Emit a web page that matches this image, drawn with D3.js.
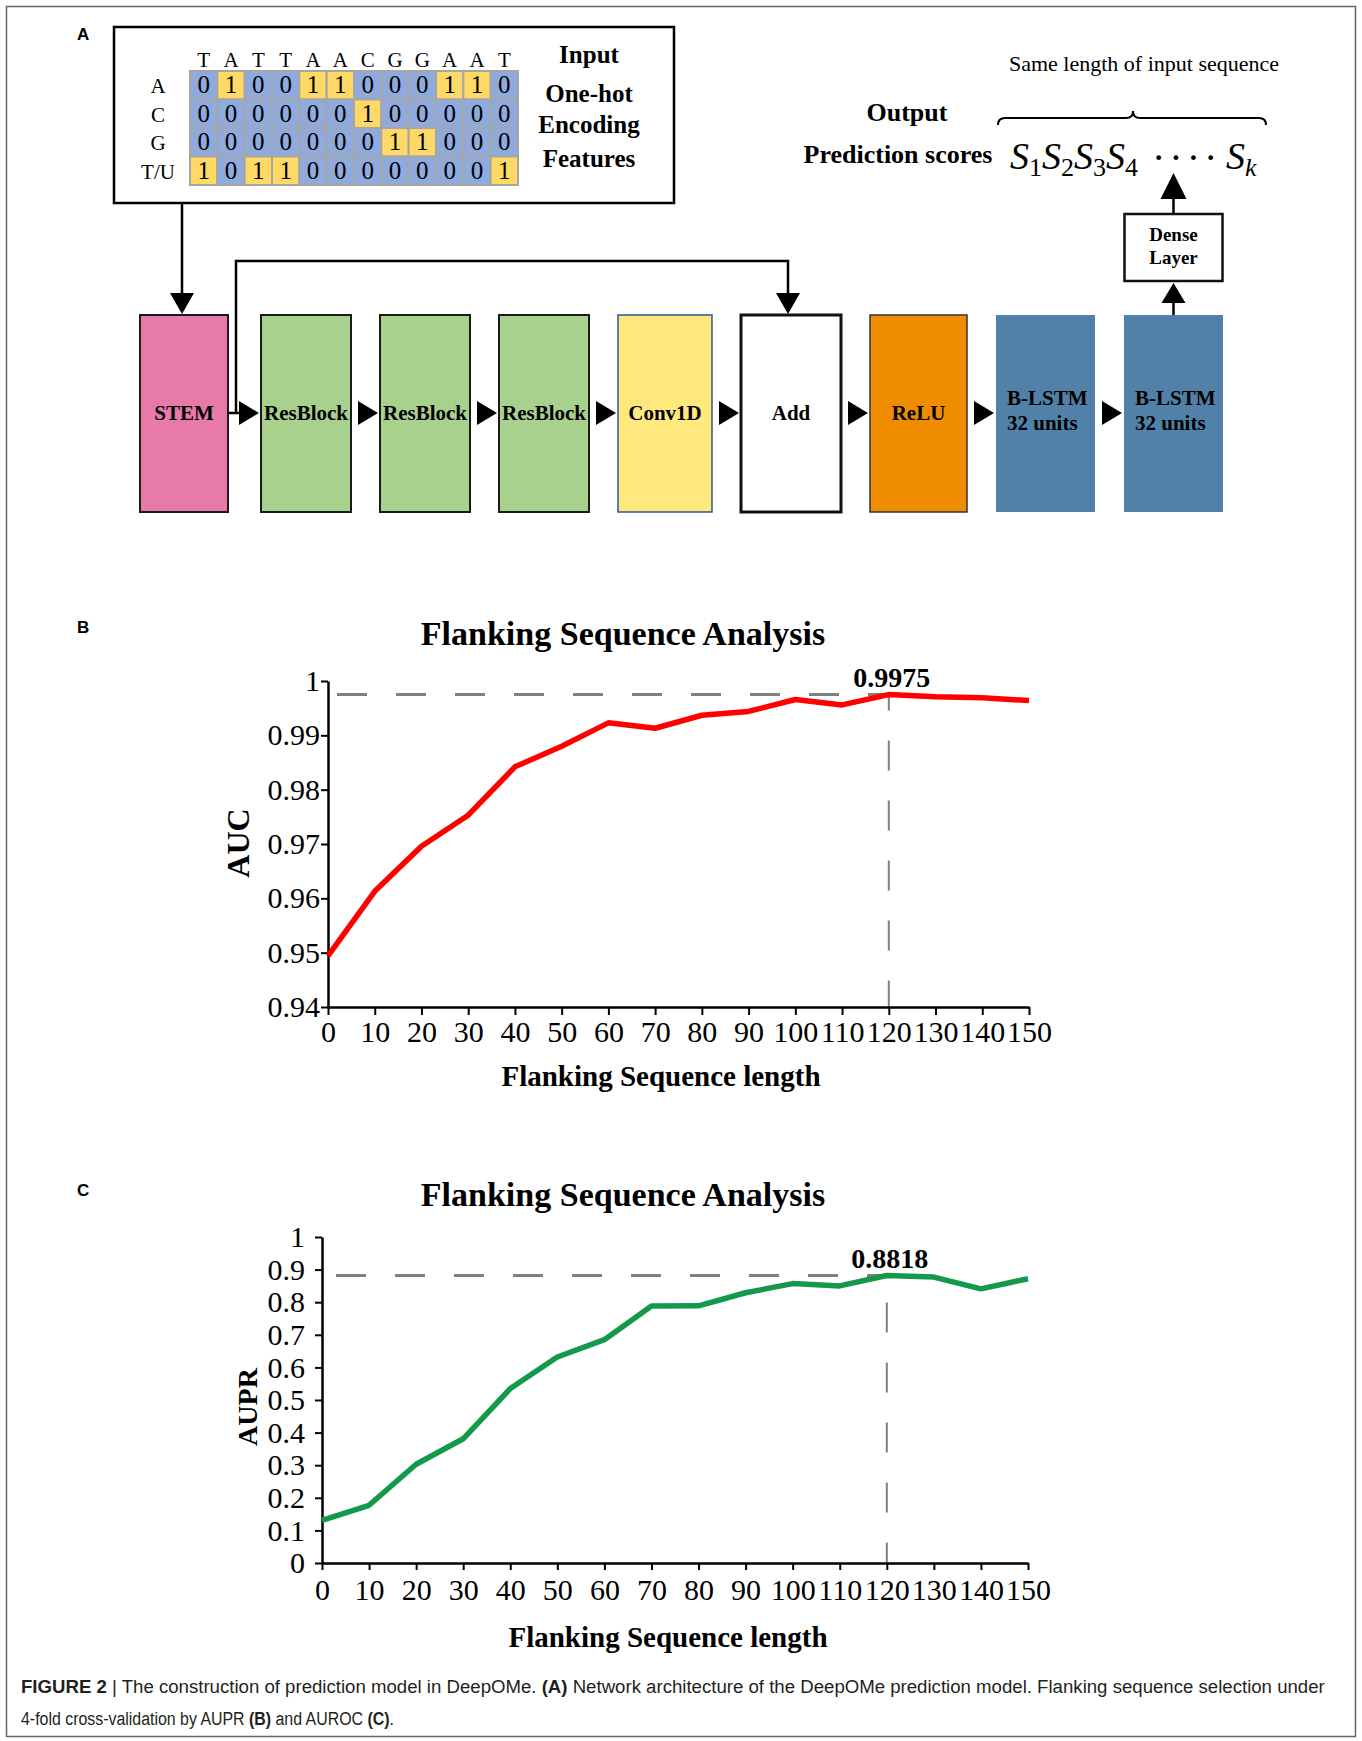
<!DOCTYPE html>
<html>
<head>
<meta charset="utf-8">
<script src="https://cdn.jsdelivr.net/npm/d3@7"></script>
<style>
  body { margin: 0; background: #fff; }
  svg { display: block; }
</style>
</head>
<body>
<svg id="fig" width="1362" height="1741"></svg>
<script>
// ---- data ----
const sequence = ["T", "A", "T", "T", "A", "A", "C", "G", "G", "A", "A", "T"];
const bases = ["A", "C", "G", "T"];
const baseLabels = ["A", "C", "G", "T/U"];
const inputLabels = ["Input", "One-hot", "Encoding", "Features"];
const blockNames = ["STEM", "ResBlock", "ResBlock", "ResBlock", "Conv1D", "Add", "ReLU", "B-LSTM", "B-LSTM"];
const blockSub = ["", "", "", "", "", "", "", "32 units", "32 units"];

const flankLengths = [0, 10, 20, 30, 40, 50, 60, 70, 80, 90, 100, 110, 120, 130, 140, 150];
const aucValues = [0.9494, 0.9613, 0.9696, 0.9753, 0.9842, 0.9880, 0.9923, 0.9913,
                   0.9937, 0.9944, 0.9966, 0.9956, 0.9975, 0.9971, 0.9969, 0.9964];
const auprValues = [0.131, 0.177, 0.303, 0.381, 0.535, 0.632, 0.685, 0.788,
                    0.789, 0.829, 0.857, 0.850, 0.8818, 0.877, 0.841, 0.872];
const aucTicks = [0.94, 0.95, 0.96, 0.97, 0.98, 0.99, 1];
const auprTicks = [0, 0.1, 0.2, 0.3, 0.4, 0.5, 0.6, 0.7, 0.8, 0.9, 1];
const bestLength = 120;
const bestAuc = 0.9975;
const bestAupr = 0.8818;

// ---- styles ----
const SERIF = "'Liberation Serif','Times New Roman',serif";
const SANS = "'Liberation Sans',Arial,sans-serif";
const blockStyle = {
  "STEM":     { fill: "#E87AA9", stroke: "#1a1a1a", sw: 2, w: 88 },
  "ResBlock": { fill: "#A9D18E", stroke: "#1a1a1a", sw: 2, w: 90 },
  "Conv1D":   { fill: "#FFE97F", stroke: "#2F5597", sw: 1.5, w: 94 },
  "Add":      { fill: "#ffffff", stroke: "#111111", sw: 3, w: 100 },
  "ReLU":     { fill: "#F08C00", stroke: "#333333", sw: 1.5, w: 97 },
  "B-LSTM":   { fill: "#5181A8", stroke: "none", sw: 0, w: 99 }
};
const blockGap = 29;

const svg = d3.select("#fig");

function label(g, x, y, s, size, o = {}) {
  return g.append("text")
    .attr("x", x).attr("y", y)
    .attr("text-anchor", o.anchor || "middle")
    .attr("font-family", o.family || SERIF)
    .attr("font-weight", o.bold ? "bold" : "normal")
    .attr("font-style", o.italic ? "italic" : "normal")
    .attr("font-size", size)
    .attr("fill", o.fill || "#000")
    .text(s);
}

// filled triangle, tip at (tx,ty)
function tri(g, tx, ty, dir, w, h) {
  let pts;
  if (dir === "right") pts = [[tx, ty], [tx - w, ty - h / 2], [tx - w, ty + h / 2]];
  if (dir === "down") pts = [[tx, ty], [tx - w / 2, ty - h], [tx + w / 2, ty - h]];
  if (dir === "up") pts = [[tx, ty], [tx - w / 2, ty + h], [tx + w / 2, ty + h]];
  g.append("path").attr("d", d3.line()(pts) + "Z").attr("fill", "#000");
}

// outer frame
svg.append("rect")
  .attr("x", 6.5).attr("y", 6.5).attr("width", 1349).attr("height", 1730)
  .attr("fill", "none").attr("stroke", "#666").attr("stroke-width", 1.5);

// panel letters
label(svg, 77, 40, "A", 17, { family: SANS, bold: true, anchor: "start" });
label(svg, 77, 633, "B", 17, { family: SANS, bold: true, anchor: "start" });
label(svg, 77, 1196, "C", 17, { family: SANS, bold: true, anchor: "start" });

// ================= Panel A =================
const gA = svg.append("g");

// input box
gA.append("rect")
  .attr("x", 114).attr("y", 27).attr("width", 560).attr("height", 176)
  .attr("fill", "#fff").attr("stroke", "#000").attr("stroke-width", 2.5);

const mx = d3.scaleBand().domain(d3.range(sequence.length)).range([190, 518]);
const my = d3.scaleBand().domain(d3.range(bases.length)).range([71, 185]);
const cells = bases.flatMap((b, r) => sequence.map((s, c) => ({ r, c, v: s === b ? 1 : 0 })));

gA.selectAll("rect.cell")
  .data(cells)
  .enter()
  .append("rect")
  .attr("class", "cell")
  .attr("x", d => mx(d.c)).attr("y", d => my(d.r))
  .attr("width", mx.bandwidth()).attr("height", my.bandwidth())
  .attr("fill", d => d.v ? "#FFD966" : "#8FAADC")
  .attr("stroke", "#A6A6A6").attr("stroke-width", 2);

gA.selectAll("text.cellv")
  .data(cells)
  .enter()
  .append("text")
  .attr("class", "cellv")
  .attr("x", d => mx(d.c) + mx.bandwidth() / 2)
  .attr("y", d => my(d.r) + my.bandwidth() / 2 + 8)
  .attr("text-anchor", "middle")
  .attr("font-family", SERIF).attr("font-size", 25)
  .text(d => d.v);

// sequence letters over columns
sequence.forEach((s, c) => label(gA, mx(c) + mx.bandwidth() / 2, 67, s, 21));
// base labels
baseLabels.forEach((b, r) => label(gA, 158, my(r) + my.bandwidth() / 2 + 8, b, 21));

// "Input / One-hot / Encoding / Features"
[63, 102, 133, 167].forEach((yy, i) => label(gA, 589, yy, inputLabels[i], 25, { bold: true }));

// processing blocks: left edges from cumulative widths
const blockX = [];
blockNames.reduce((x, name, i) => {
  blockX.push(x);
  return x + blockStyle[name].w + (i === 0 ? blockGap + 4 : blockGap);
}, 140);
const bW = i => blockStyle[blockNames[i]].w;
const blockTop = 315, blockBot = 512, midY = 413;

const blk = gA.selectAll("g.block")
  .data(blockNames)
  .enter()
  .append("g")
  .attr("class", "block");

blk.append("rect")
  .attr("x", (d, i) => blockX[i]).attr("y", blockTop)
  .attr("width", d => blockStyle[d].w).attr("height", blockBot - blockTop)
  .attr("fill", d => blockStyle[d].fill)
  .attr("stroke", d => blockStyle[d].stroke)
  .attr("stroke-width", d => blockStyle[d].sw);

blk.each(function (d, i) {
  const g = d3.select(this);
  if (blockSub[i]) {
    label(g, blockX[i] + 11, 405, d, 21, { bold: true, anchor: "start" });
    label(g, blockX[i] + 11, 430, blockSub[i], 21, { bold: true, anchor: "start" });
  } else {
    label(g, blockX[i] + bW(i) / 2, midY + 7, d, 21, { bold: true });
  }
});

// arrows between blocks
d3.range(blockNames.length - 1).forEach(i => {
  tri(gA, blockX[i + 1] - 2, midY, "right", 20, 24);
});
gA.append("line")
  .attr("x1", blockX[0] + bW(0)).attr("x2", blockX[1] - 20).attr("y1", midY).attr("y2", midY)
  .attr("stroke", "#000").attr("stroke-width", 2.5);

// skip connection STEM -> Add
const addIdx = blockNames.indexOf("Add");
const addC = blockX[addIdx] + bW(addIdx) / 2 - 3;
const skipX = blockX[0] + bW(0) + 8;
gA.append("path")
  .attr("d", `M${skipX},${midY}V261H${addC}V${blockTop - 20}`)
  .attr("fill", "none").attr("stroke", "#000").attr("stroke-width", 2.5);
tri(gA, addC, blockTop - 1, "down", 24, 21);

// input -> STEM
const stemC = blockX[0] + bW(0) / 2 - 2;
gA.append("line")
  .attr("x1", stemC).attr("x2", stemC).attr("y1", 203).attr("y2", blockTop - 20)
  .attr("stroke", "#000").attr("stroke-width", 2.5);
tri(gA, stemC, blockTop - 1, "down", 24, 21);

// B-LSTM -> Dense -> output
const last = blockNames.length - 1;
const lastC = blockX[last] + bW(last) / 2;
gA.append("line")
  .attr("x1", lastC).attr("x2", lastC).attr("y1", blockTop).attr("y2", 300)
  .attr("stroke", "#000").attr("stroke-width", 2.5);
tri(gA, lastC, 283, "up", 24, 20);
gA.append("rect")
  .attr("x", lastC - 49).attr("y", 214).attr("width", 98).attr("height", 67)
  .attr("fill", "#fff").attr("stroke", "#111").attr("stroke-width", 2.5);
label(gA, lastC, 241, "Dense", 19, { bold: true });
label(gA, lastC, 264, "Layer", 19, { bold: true });
gA.append("line")
  .attr("x1", lastC).attr("x2", lastC).attr("y1", 214).attr("y2", 195)
  .attr("stroke", "#000").attr("stroke-width", 2.5);
tri(gA, lastC, 173, "up", 26, 26);

// output text
label(gA, 907, 121, "Output", 26, { bold: true });
label(gA, 898, 163, "Prediction scores", 26, { bold: true });
label(gA, 1144, 71, "Same length of input sequence", 22);

// brace
const br = d3.path();
br.moveTo(998, 125);
br.quadraticCurveTo(998, 118, 1005, 118);
br.lineTo(1126, 118);
br.quadraticCurveTo(1133, 118, 1133, 111);
br.quadraticCurveTo(1133, 118, 1140, 118);
br.lineTo(1259, 118);
br.quadraticCurveTo(1266, 118, 1266, 125);
gA.append("path").attr("d", br.toString())
  .attr("fill", "none").attr("stroke", "#000").attr("stroke-width", 2);

// S1 S2 S3 S4 .... Sk
const math = gA.append("text")
  .attr("x", 1010).attr("y", 169)
  .attr("font-family", SERIF).attr("font-size", 38);
["1", "2", "3", "4"].forEach((k, i) => {
  math.append("tspan").attr("font-style", "italic").attr("dy", i === 0 ? 0 : -7).text("S");
  math.append("tspan").attr("font-size", 26).attr("dy", 7).text(k);
});
label(gA, 1152, 171, "····", 40, { anchor: "start" }).attr("letter-spacing", 4);
const sk = gA.append("text").attr("x", 1226).attr("y", 169)
  .attr("font-family", SERIF).attr("font-size", 38);
sk.append("tspan").attr("font-style", "italic").text("S");
sk.append("tspan").attr("font-style", "italic").attr("font-size", 26).attr("dy", 7).text("k");

// ================= Panels B & C =================
function drawChart(cfg) {
  const g = svg.append("g");
  const x = d3.scaleLinear().domain([0, 150]).range([cfg.x0, cfg.x1]);
  const y = d3.scaleLinear().domain(cfg.yDomain).range([cfg.y0, cfg.y1]);

  label(g, 623, cfg.titleY, "Flanking Sequence Analysis", 34, { bold: true });

  // reference dashed lines
  g.append("line")
    .attr("x1", x(0)).attr("x2", x(bestLength))
    .attr("y1", y(cfg.best)).attr("y2", y(cfg.best))
    .attr("stroke", "#808080").attr("stroke-width", 3)
    .attr("stroke-dasharray", "30,29").attr("stroke-dashoffset", cfg.hOff);
  g.append("line")
    .attr("x1", x(bestLength)).attr("x2", x(bestLength))
    .attr("y1", y(cfg.best)).attr("y2", cfg.y0)
    .attr("stroke", "#808080").attr("stroke-width", 2)
    .attr("stroke-dasharray", "30,30").attr("stroke-dashoffset", cfg.vOff);

  // axes
  const xa = g.append("g")
    .attr("transform", `translate(0,${cfg.y0})`)
    .call(d3.axisBottom(x).tickValues(flankLengths).tickSize(cfg.xTick).tickPadding(cfg.xPad).tickSizeOuter(0));
  const ya = g.append("g")
    .attr("transform", `translate(${cfg.x0},0)`)
    .call(d3.axisLeft(y).tickValues(cfg.ticks).tickFormat(cfg.fmt).tickSize(7).tickPadding(cfg.yPad).tickSizeOuter(0));
  [xa, ya].forEach(a => {
    a.attr("font-family", SERIF).attr("font-size", 30);
    a.select(".domain").attr("stroke", "#000").attr("stroke-width", 2.5);
    a.selectAll(".tick line").attr("stroke", "#000").attr("stroke-width", 2);
    a.selectAll(".tick text").attr("fill", "#000");
  });

  // data line
  g.append("path")
    .datum(cfg.values)
    .attr("d", d3.line().x((d, i) => x(flankLengths[i])).y(d => y(d)))
    .attr("fill", "none").attr("stroke", cfg.color).attr("stroke-width", 5.5)
    .attr("stroke-linejoin", "round");

  label(g, x(bestLength) + 3, y(cfg.best) - 8, cfg.best.toString(), 28, { bold: true });

  label(g, cfg.xLabelX, cfg.xLabelY, "Flanking Sequence length", 29, { bold: true });
  label(g, 0, 0, cfg.yLabel, cfg.yLabelSize, { bold: true })
    .attr("dominant-baseline", "central")
    .attr("transform", `translate(${cfg.yLabelX},${cfg.yLabelY}) rotate(-90)`);
}

drawChart({
  values: aucValues, best: bestAuc, color: "#FF0000",
  x0: 328, x1: 1029, y0: 1007, y1: 681, yDomain: [0.94, 1],
  ticks: aucTicks, fmt: d3.format(".2~f"), yPad: 1,
  xTick: 8, xPad: 6, titleY: 645, hOff: 50, vOff: 14,
  xLabelX: 661, xLabelY: 1086,
  yLabel: "AUC", yLabelSize: 32, yLabelX: 238, yLabelY: 843
});

drawChart({
  values: auprValues, best: bestAupr, color: "#12994A",
  x0: 322, x1: 1028, y0: 1563, y1: 1237, yDomain: [0, 1],
  ticks: auprTicks, fmt: d3.format(".1~f"), yPad: 10,
  xTick: 7, xPad: 9, titleY: 1206, hOff: 45, vOff: 33,
  xLabelX: 668, xLabelY: 1647,
  yLabel: "AUPR", yLabelSize: 28, yLabelX: 247, yLabelY: 1407
});

// ================= caption =================
function captionLine(y, parts, targetW) {
  const t = svg.append("text")
    .attr("x", 0).attr("y", 0)
    .attr("font-family", SANS).attr("font-size", 19).attr("fill", "#231F20");
  parts.forEach(p => t.append("tspan").attr("font-weight", p[1] ? "bold" : "normal").text(p[0]));
  const w = t.node().getComputedTextLength();
  t.attr("transform", `translate(21,${y}) scale(${targetW / w},1)`);
}
captionLine(1693, [
  ["FIGURE 2", true], [" | The construction of prediction model in DeepOMe. ", false],
  ["(A)", true], [" Network architecture of the DeepOMe prediction model. Flanking sequence selection under", false]
], 1305);
captionLine(1725, [
  ["4-fold cross-validation by AUPR ", false], ["(B)", true], [" and AUROC ", false], ["(C)", true], [".", false]
], 373);
</script>
</body>
</html>
